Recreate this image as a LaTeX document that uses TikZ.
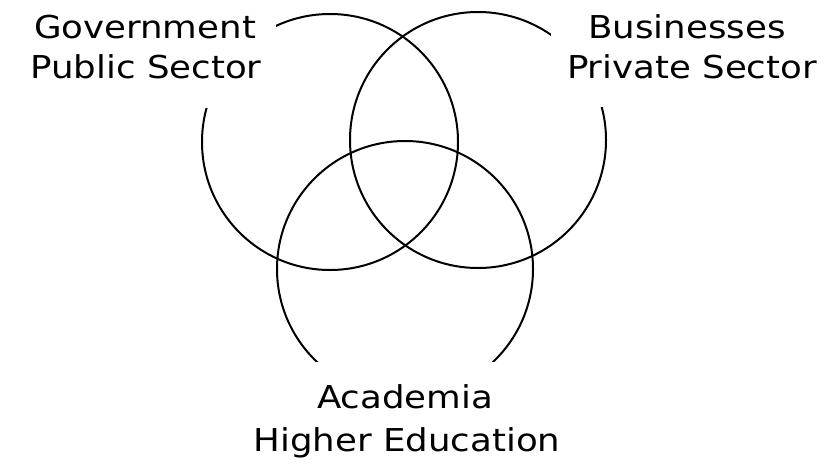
\documentclass[tikz,border=0pt]{standalone}
\usepackage{fontspec}
\setmainfont[FakeStretch=1.13]{DejaVu Sans}
\begin{document}
\begin{tikzpicture}[x=1pt,y=-1pt,
  venn/.style={circle,draw=black,line width=2pt,minimum size=256pt,inner sep=0pt},
  mask/.style={fill=white,draw=none},
  lbl/.style={anchor=base,inner sep=0pt,font=\fontsize{31.5}{40}\selectfont}]
\useasboundingbox[fill=white] (0,0) rectangle (830,466);
\node[venn] (gov) at (330,142) {};
\node[venn] (bus) at (478,140) {};
\node[venn] (aca) at (405,269) {};
\fill[mask] (0,0) rectangle (276,108);
\fill[mask] (551,0) rectangle (830,107);
\fill[mask] (230,362) rectangle (600,466);
\node[lbl] (g1) at (145,38) {Government};
\node[lbl] (g2) at (146,78) {Public Sector};
\node[lbl] (b1) at (687,38) {Businesses};
\node[lbl] (b2) at (692,78) {Private Sector};
\node[lbl] (a1) at (405,408) {Academia};
\node[lbl] (a2) at (407,451) {Higher Education};
\end{tikzpicture}
\end{document}
